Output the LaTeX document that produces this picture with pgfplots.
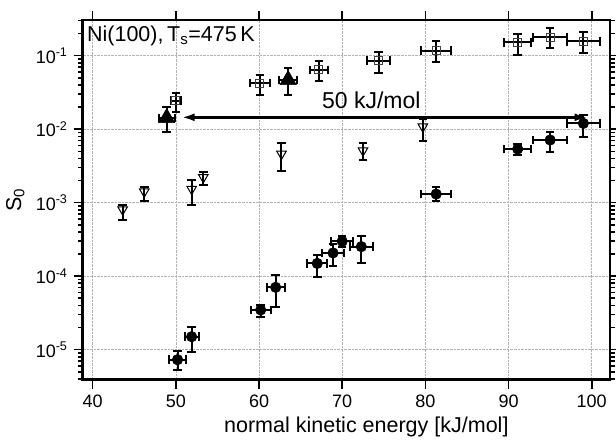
\documentclass[border=0pt]{standalone}
\usepackage{fontspec}
\setmainfont{Liberation Sans}
\usepackage{pgfplots}
\pgfplotsset{compat=1.18}
\usetikzlibrary{arrows.meta}
\pgfplotstableread{
x y ex ep em
50.0 0.0244 0.6 0.0063 0.0075
60.1 0.0425 1.2 0.0127 0.0131
67.2 0.064 1.06 0.0215 0.0183
74.4 0.0855 1.4 0.0255 0.0275
81.3 0.117 1.84 0.040 0.034
91.1 0.152 1.6 0.045 0.049
95.0 0.177 2.0 0.058 0.051
99.0 0.157 2.0 0.050 0.047
}\squares
\pgfplotstableread{
x y ex ep em
48.9 0.0142 0.94 0.0060 0.00514
63.5 0.0467 1.08 0.0213 0.0173
}\uptri
\pgfplotstableread{
x y ex ep em
43.6 0.000804 0 0.000136 0.000224
46.2 0.00141 0 0.00021 0.00035
51.9 0.00153 0 0.00051 0.00059
53.3 0.00221 0 0.00037 0.00047
62.7 0.0046 0 0.0018 0.00188
72.5 0.0051 0 0.0013 0.00125
79.7 0.0108 0 0.003 0.00382
}\downtri
\pgfplotstableread{
x y ex ep em
50.2 7.3e-6 0.98 2.2e-6 1.95e-6
51.9 1.5e-5 0.86 5.6e-6 5.6e-6
60.2 3.47e-5 1.22 6.3e-6 7.2e-6
62.0 7.05e-5 1.1 3.45e-5 3.28e-5
67.0 1.49e-4 1.18 4.7e-5 5.1e-5
68.9 2.07e-4 1.34 6.7e-5 6.8e-5
70.0 2.98e-4 1.32 5.8e-5 5.1e-5
72.3 2.52e-4 1.36 9.6e-5 9.9e-5
81.3 1.31e-3 1.84 3.1e-4 2.5e-4
91.1 5.37e-3 1.6 9.3e-4 8.7e-4
95.0 7.13e-3 2.0 1.93e-3 2.19e-3
99.0 0.012 2.0 0.0037 0.0041
}\circles
\pgfplotsset{
  myerr/.style={
    line width=2bp, black,
    /pgfplots/error bars/error bar style={line width=2bp, black, solid},
    /pgfplots/error bars/error mark options={rotate=90, mark size=4.3bp, line width=2bp, black}},
}
\begin{document}
\fontsize{18bp}{21bp}\selectfont
\begin{tikzpicture}
\useasboundingbox (-82.7bp,-60bp) rectangle (533.3bp,379.7bp);
\begin{axis}[
  at={(0,0)}, anchor=south west,
  scale only axis, width=527.3bp, height=359.7bp,
  xmin=38.8, xmax=102.2,
  ymode=log, ymin=3.9e-6, ymax=0.306,
  xtick={40,50,60,70,80,90,100},
  ytick={1e-5,1e-4,1e-3,1e-2,1e-1},
  yticklabels={10\textsuperscript{-5},10\textsuperscript{-4},10\textsuperscript{-3},10\textsuperscript{-2},10\textsuperscript{-1}},
  minor ytick={4e-6,5e-6,6e-6,7e-6,8e-6,9e-6,2e-5,3e-5,4e-5,5e-5,6e-5,7e-5,8e-5,9e-5,2e-4,3e-4,4e-4,5e-4,6e-4,7e-4,8e-4,9e-4,2e-3,3e-3,4e-3,5e-3,6e-3,7e-3,8e-3,9e-3,2e-2,3e-2,4e-2,5e-2,6e-2,7e-2,8e-2,9e-2,2e-1,3e-1},
  tick align=outside,
  major tick length=9bp, minor tick length=4.5bp,
  every tick/.style={black, line width=1.6bp},
  axis line style={line width=2.5bp},
  grid=major,
  major grid style={gray!60, densely dotted, line width=0.7bp},
  xlabel={normal kinetic energy [kJ/mol]},
  ylabel={S\textsubscript{0}},
  ticklabel style={font=\fontsize{18bp}{20bp}\selectfont},
  label style={font=\fontsize{21.5bp}{24bp}\selectfont},
  /pgf/number format/assume math mode=true,
  xlabel style={yshift=3bp, xshift=20bp},
  ylabel style={yshift=-1bp},
]
\addplot[only marks, myerr, mark=square, mark size=4bp, mark options={line width=1bp, draw=gray!50!black},
  error bars/.cd, x dir=both, x explicit, y dir=both, y explicit]
  table[x=x, y=y, x error=ex, y error plus=ep, y error minus=em]{\squares};
\addplot[only marks, myerr, mark=triangle*, mark size=9.5bp, mark options={line width=0.5bp, fill=black, draw=black},
  error bars/.cd, x dir=both, x explicit, y dir=both, y explicit]
  table[x=x, y=y, x error=ex, y error plus=ep, y error minus=em]{\uptri};
\addplot[only marks, myerr, mark=triangle, mark size=5.5bp, mark options={rotate=180, line width=1bp, draw=black},
  error bars/.cd, y dir=both, y explicit]
  table[x=x, y=y, y error plus=ep, y error minus=em]{\downtri};
\addplot[only marks, myerr, mark=*, mark size=5.3bp, mark options={line width=0.5bp, fill=black, draw=black},
  error bars/.cd, x dir=both, x explicit, y dir=both, y explicit]
  table[x=x, y=y, x error=ex, y error plus=ep, y error minus=em]{\circles};
\addplot[line width=2.5bp, black, {Latex[length=13bp,width=8bp]}-{Latex[length=13bp,width=8bp]}] coordinates {(50.7,0.0145) (99.5,0.0145)};
\node[font=\fontsize{23bp}{25bp}\selectfont] at (axis cs:73.5,0.0244) {50 kJ/mol};
\node[anchor=north west, inner sep=0pt, font=\fontsize{21.5bp}{24bp}\selectfont] at (rel axis cs:0.008,0.985) {Ni(100),\,T\textsubscript{s}=475\,K};
\end{axis}
\end{tikzpicture}
\end{document}
